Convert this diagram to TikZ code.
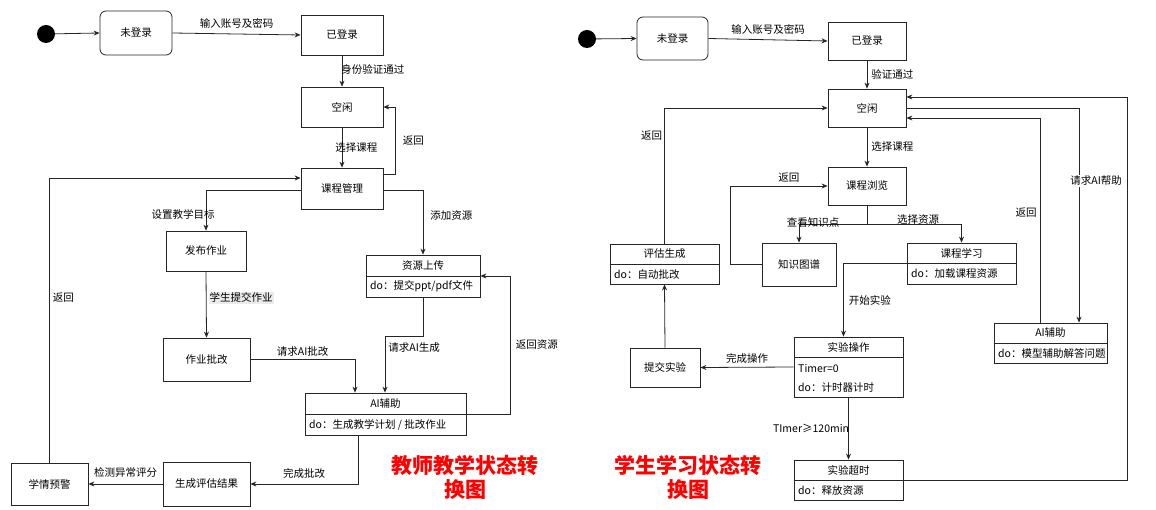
\documentclass[tikz,border=0pt]{standalone}
\usepackage{fontspec}
\setmainfont{Noto Sans CJK SC}
\usetikzlibrary{arrows.meta}
\begin{document}
\begin{tikzpicture}[x=1pt,y=-1pt,
  box/.style={draw=black!85,line width=0.8pt,inner sep=0pt,font=\fontsize{10.5}{12}\selectfont},
  rbox/.style={box,rounded corners=6pt},
  arr/.style={draw=black!85,line width=0.8pt,-{Stealth[length=6pt,width=5pt]}},
  lab/.style={font=\fontsize{10.5}{12}\selectfont,inner sep=1pt},
  txt/.style={font=\fontsize{10.5}{12}\selectfont,inner sep=0pt},
  ttl/.style={text=red,font=\fontsize{21}{24}\selectfont\bfseries,align=center}]
\useasboundingbox (0,0) rectangle (1156,510);
% ---------- left ----------
\node[circle,fill=black,minimum size=18pt,inner sep=0pt] (s1) at (46,34) {};
\node[rbox,minimum width=72pt,minimum height=44pt] (wdl) at (136,33) {未登录};
\node[box,minimum width=82pt,minimum height=40pt] (ydl) at (342,35) {已登录};
\node[box,minimum width=82pt,minimum height=40pt] (kx) at (342,107) {空闲};
\node[box,minimum width=82pt,minimum height=41pt] (kcgl) at (342,188.5) {课程管理};
\node[box,minimum width=80pt,minimum height=40pt] (fbzy) at (206,251) {发布作业};
\node[box,minimum width=114pt,minimum height=42pt] (zysc) at (423,276) {};
\draw[black!85,line width=0.8pt] (zysc.west) -- (zysc.east);
\node[txt] (zysct) at (423,265.5) {资源上传};
\node[txt,anchor=west] (zyscd) at (370,286.5) {do：提交ppt/pdf文件};
\node[box,minimum width=87pt,minimum height=43pt] (zypg) at (206.5,359.5) {作业批改};
\node[box,minimum width=161pt,minimum height=42pt] (ai) at (385.5,414) {};
\draw[black!85,line width=0.8pt] (ai.west) -- (ai.east);
\node[txt] (ait) at (385.5,403.5) {AI辅助};
\node[txt,anchor=west] (aid) at (309,424.5) {do：生成教学计划 / 批改作业};
\node[box,minimum width=77pt,minimum height=42pt] (xqyj) at (49.5,484) {学情预警};
\node[box,minimum width=87pt,minimum height=44pt] (scpg) at (206.5,484) {生成评估结果};
\node[ttl] (t1) at (465,477) {教师教学状态转\\换图};

\draw[arr] (s1) -- (wdl.west);
\draw[arr] (wdl.east) -- node[lab,above=4pt] {输入账号及密码} (ydl.west);
\draw[arr] (ydl.south) -- node[lab,right=-2pt,pos=0.45] {身份验证通过} (kx.north);
\draw[arr] (kx.south) -- node[lab,right=-8pt,pos=0.5] {选择课程} (kcgl.north);
\draw[arr] ([yshift=14.5pt]kcgl.east) -- ++(12,0) |- node[lab,pos=0.25,right=6pt] {返回} (kx.east);
\draw[arr] ([yshift=-1.5pt]kcgl.west) -| node[lab,pos=0.8,left=-10pt] {设置教学目标} (fbzy.north);
\draw[arr] ([yshift=-1.5pt]kcgl.east) -| node[lab,pos=0.7,right=6pt] {添加资源} (zysc.north);
\draw[arr] (fbzy.south) -- node[lab,right=2pt,fill=black!8,pos=0.4] {学生提交作业} (zypg.north);
\draw[arr] (zypg.east) -| node[lab,pos=0.25,above=2pt] {请求AI批改} ([xshift=-30.5pt]ai.north);
\draw[arr] (zysc.south) -- ++(0,39) -| node[lab,pos=0.6,right=2pt] {请求AI生成} ([xshift=-0.5pt]ai.north);
\draw[arr] (ai.east) -- ++(44,0) |- node[lab,pos=0.25,right=4pt] {返回资源} (zysc.east);
\draw[arr] ([xshift=-27.5pt]ai.south) |- node[lab,pos=0.75,above=4pt] {完成批改} (scpg.east);
\draw[arr] (scpg.west) -- node[lab,above=5pt] {检测异常评分} (xqyj.east);
\draw[arr] (xqyj.north) |- node[lab,pos=0.29,right=2pt] {返回} ([yshift=10.5pt]kcgl.west);
% ---------- right ----------
\node[circle,fill=black,minimum size=18pt,inner sep=0pt] (s2) at (587,39) {};
\node[rbox,minimum width=71pt,minimum height=43pt] (wdl2) at (672.5,38.5) {未登录};
\node[box,minimum width=78pt,minimum height=38pt] (ydl2) at (867,41) {已登录};
\node[box,minimum width=78pt,minimum height=38pt] (kx2) at (867,108) {空闲};
\node[box,minimum width=78pt,minimum height=38pt] (kcll) at (867,186) {课程浏览};
\node[box,minimum width=74pt,minimum height=43pt] (zstp) at (799,264.5) {知识图谱};
\node[box,minimum width=109pt,minimum height=41pt] (kcxx) at (961.5,263.5) {};
\draw[black!85,line width=0.8pt] (kcxx.west) -- (kcxx.east);
\node[txt] (kcxxt) at (961.5,253) {课程学习};
\node[txt,anchor=west] (kcxxd) at (911,274) {do：加载课程资源};
\node[box,minimum width=109pt,minimum height=40pt] (pgsc) at (664.5,264) {};
\draw[black!85,line width=0.8pt] (pgsc.west) -- (pgsc.east);
\node[txt] (pgsct) at (664.5,254) {评估生成};
\node[txt,anchor=west] (pgscd) at (614,274.5) {do：自动批改};
\node[box,minimum width=70pt,minimum height=39pt] (tjsy) at (665,367.5) {提交实验};
\node[box,minimum width=109pt,minimum height=60pt] (sycz) at (848.5,367) {};
\draw[black!85,line width=0.8pt] (794,357) -- (903,357);
\node[txt] (syczt) at (848.5,347) {实验操作};
\node[txt,anchor=west] (syczm) at (798,368) {Timer=0};
\node[txt,anchor=west] (syczd) at (798,388) {do：计时器计时};
\node[box,minimum width=109pt,minimum height=40pt] (sycs) at (848.5,480) {};
\draw[black!85,line width=0.8pt] (sycs.west) -- (sycs.east);
\node[txt] (sycst) at (848.5,470) {实验超时};
\node[txt,anchor=west] (sycsd) at (798,490.5) {do：释放资源};
\node[box,minimum width=113pt,minimum height=40pt] (ai2) at (1050.5,343) {};
\draw[black!85,line width=0.8pt] (ai2.west) -- (ai2.east);
\node[txt] (ai2t) at (1050.5,333) {AI辅助};
\begin{scope}
\clip (994,343) rectangle (1106,363);
\node[txt,anchor=west] (ai2d) at (998,353.5) {do：模型辅助解答问题};
\end{scope}
\node[ttl] (t2) at (688,477) {学生学习状态转\\换图};

\draw[arr] (s2) -- (wdl2.west);
\draw[arr] (wdl2.east) -- node[lab,above=4pt] {输入账号及密码} (ydl2.west);
\draw[arr] (ydl2.south) -- node[lab,right=3pt] {验证通过} (kx2.north);
\draw[arr] (kx2.south) -- node[lab,right=3pt] {选择课程} (kcll.north);
\draw[arr] (kcll.south) -- ++(0,19) -| node[lab,pos=0.6,above=-1pt,xshift=14pt] {查看知识点} (zstp.north);
\draw[arr] (kcll.south) -- ++(0,19) -| node[lab,pos=0.27,above=-1pt] {选择资源} (kcxx.north);
\draw[arr] (zstp.west) -- ++(-31,0) |- node[lab,pos=0.8,above=2pt] {返回} (kcll.west);
\draw[arr] (kcxx.west) -| node[lab,pos=0.75,right=4pt] {开始实验} ([xshift=-5pt]sycz.north);
\draw[arr] (sycz.west) -- node[lab,above=2pt] {完成操作} (tjsy.east);
\draw[arr] (tjsy.north) -- (pgsc.south);
\draw[arr] (pgsc.north) |- node[lab,pos=0.4,left=1pt] {返回} (kx2.west);
\draw[arr] (sycz.south) -- node[lab,pos=0.5,left=-2pt] {TImer≥120min} (sycs.north);
\draw[arr] (sycs.east) -- ++(224,0) |- ([yshift=11pt]kx2.east);
\draw[arr] (kx2.east) -| node[lab,pos=0.67,right=-10pt,fill=white] {请求AI帮助} ([xshift=28.5pt]ai2.north);
\draw[arr] ([xshift=-10.5pt]ai2.north) |- node[lab,pos=0.27,left=2pt] {返回} ([yshift=-10pt]kx2.east);
\end{tikzpicture}
\end{document}
